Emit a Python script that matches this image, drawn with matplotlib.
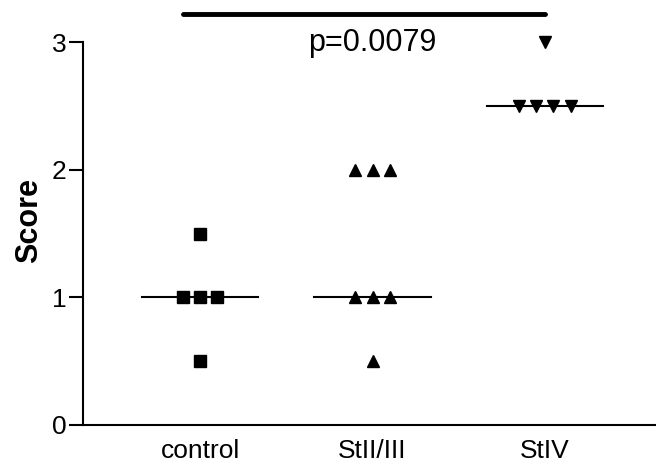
import matplotlib
matplotlib.use("Agg")
import matplotlib.pyplot as plt
import numpy as np

plt.rcParams['font.family'] = ['Liberation Sans', 'DejaVu Sans']

# Data
groups = ["control", "StII/III", "StIV"]
control_scores = [0.5, 1.0, 1.0, 1.0, 1.5]
stii_scores = [0.5, 1.0, 1.0, 1.0, 2.0, 2.0, 2.0]
stiv_scores = [2.5, 2.5, 2.5, 2.5, 3.0]
medians = [1.0, 1.0, 2.5]
markers = ["s", "^", "v"]
p_text = "p=0.0079"

fig = plt.figure(figsize=(6.56, 4.70), dpi=100)
ax = fig.add_axes([83 / 656, 45 / 470, 1 - 83 / 656, 383 / 470])

step = 0.1
for i, scores in enumerate([control_scores, stii_scores, stiv_scores]):
    pos = i + 1
    # spread equal values side by side, like a scatter dot plot
    vals = np.array(scores)
    for v in np.unique(vals):
        n = np.sum(vals == v)
        xs = pos + (np.arange(n) - (n - 1) / 2) * step
        ax.plot(xs, [v] * n, linestyle="none", marker=markers[i],
                color="black", markersize=9, clip_on=False, zorder=3)
    ax.plot([pos - 0.337, pos + 0.337], [medians[i]] * 2,
            color="black", lw=1.5, zorder=2)

# significance bar
ax.plot([0.9, 3.0], [3.22, 3.22], color="black", lw=3.5,
        clip_on=False, solid_capstyle="round")
ax.text(2.0, 2.99, p_text, ha="center", va="center", fontsize=22)

ax.set_xlim(0.32, 3.645)
ax.set_ylim(0, 3)
ax.set_xticks([1, 2, 3])
ax.set_xticklabels(groups, fontsize=19)
ax.set_yticks([0, 1, 2, 3])
ax.tick_params(axis="x", length=0, pad=10)
ax.tick_params(axis="y", length=10, width=1.5, labelsize=19, pad=2)
ax.set_ylabel("Score", fontsize=22, fontweight="bold")
ax.yaxis.set_label_coords(-0.067, 0.535)

for side in ["top", "right"]:
    ax.spines[side].set_visible(False)
for side in ["left", "bottom"]:
    ax.spines[side].set_linewidth(1.5)

fig.savefig("out.png", dpi=100)
